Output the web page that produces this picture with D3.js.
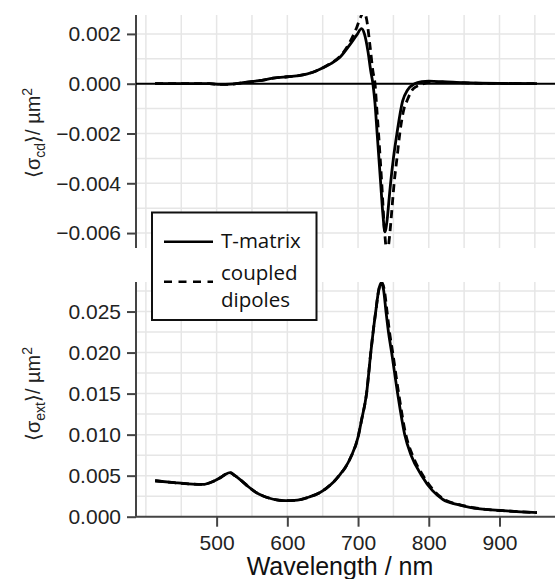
<!DOCTYPE html>
<html>
<head>
<meta charset="utf-8">
<script src="https://cdn.jsdelivr.net/npm/d3@7"></script>
<style>
  html, body { margin: 0; padding: 0; background: #fff; }
  svg { display: block; }
</style>
</head>
<body>
<svg id="chart" width="555" height="579"></svg>
<script>
// ---------- data ----------
const cdTmatWl = [413,450,490,505,520,540,560,580,600,618,635,646,660,674,688,698,705,709,714,718,721,724,727,732,735,738,741,744,746,750,755,763,770,780,790,800,820,850,900,953];
const cdTmatV  = [0,0,0,-0.00003,-0.00002,0.00005,0.00012,0.00022,0.00028,0.00033,0.00045,0.00058,0.00078,0.00105,0.00155,0.00195,0.00221,0.00200,0.00130,0.00050,0.0,-0.0008,-0.0020,-0.0040,-0.0052,-0.00595,-0.0055,-0.0046,-0.0040,-0.0030,-0.0020,-0.0007,-0.00025,0.0,0.00008,0.0001,0.00008,0.00004,0.00001,0];

const cdDipWl = [413,450,490,505,520,540,560,580,600,618,635,646,660,674,688,698,704,708,712,717,721,724,726.5,729,733.5,737,741,745,748,751,755,759,765,769,778,790,800,820,850,900,953];
const cdDipV  = [0,0,0,-0.00003,-0.00002,0.00005,0.00012,0.00022,0.00028,0.00033,0.00045,0.00058,0.00080,0.00108,0.00165,0.00225,0.0027,0.0029,0.0026,0.0015,0.0005,0.0,-0.0010,-0.0020,-0.0040,-0.0057,-0.0068,-0.0060,-0.0050,-0.0040,-0.0030,-0.0020,-0.0010,-0.0007,-0.0002,-0.00003,0.00005,0.00006,0.00003,0.00001,0];

const extTmatWl = [413,440,460,480,495,505,512,519,526,535,545,555,565,575,585,598,610,620,631,645,655,665,675,682,690,700,705,712,718,722,725,729,732.5,736,739.5,743,747.5,756,766,775,790,805,820,840,858,880,905,930,953];
const extTmatV  = [0.00438,0.00415,0.00400,0.00393,0.00430,0.00475,0.00515,0.00537,0.00500,0.00440,0.00365,0.00300,0.00255,0.00225,0.00205,0.00195,0.00198,0.00212,0.00240,0.00290,0.00346,0.00420,0.00520,0.00600,0.00730,0.00970,0.0118,0.0150,0.0200,0.0230,0.0250,0.0275,0.0285,0.0277,0.0250,0.0225,0.0200,0.0150,0.0100,0.0075,0.0050,0.0032,0.0021,0.00150,0.00115,0.00090,0.00073,0.00060,0.00050];

const extDipWl = [413,440,460,480,495,505,512,519,526,535,545,555,565,575,585,598,610,620,631,645,655,665,675,682,690,700,705,712,718,722,725,729,733,737,741,744.5,749,757.5,767.5,777,792,807,822,842,860,880,905,930,953];
const extDipV  = [0.00438,0.00415,0.00400,0.00393,0.00430,0.00475,0.00515,0.00537,0.00500,0.00440,0.00365,0.00300,0.00255,0.00225,0.00205,0.00195,0.00198,0.00212,0.00240,0.00290,0.00346,0.00420,0.00520,0.00600,0.00730,0.00970,0.0118,0.0150,0.0200,0.0230,0.0250,0.0275,0.0286,0.0277,0.0250,0.0225,0.0200,0.0150,0.0100,0.0075,0.0050,0.0032,0.0021,0.00150,0.00115,0.00090,0.00073,0.00060,0.00050];

const xTicks = [500, 600, 700, 800, 900];
const xGrid = [400,450,500,550,600,650,700,750,800,850,900,950];
const topTicks = [0.002, 0.000, -0.002, -0.004, -0.006];
const topGrid = [0.002,0.001,0,-0.001,-0.002,-0.003,-0.004,-0.005,-0.006];
const botTicks = [0.000,0.005,0.010,0.015,0.020,0.025];
const botGrid = [0.0025,0.005,0.0075,0.010,0.0125,0.015,0.0175,0.020,0.0225,0.025,0.0275];
const legendLabels = [["T-matrix"], ["coupled", "dipoles"]];
const xTitle = "Wavelength / nm";

// ---------- layout ----------
const svg = d3.select("#chart");
const xL = 136, xR = 555;
const x = d3.scaleLinear().domain([386, 978.5]).range([xL, xR]);
const yTop = d3.scaleLinear().domain([-0.0066, 0.00276]).range([248, 15]);
const yBot = d3.scaleLinear().domain([0, 0.0286]).range([516.7, 282]);

const gridColor = "#e6e6e6";
const axisColor = "#444";
const fontAxis = "'Liberation Sans', Arial, Helvetica, sans-serif";

const defs = svg.append("defs");
defs.append("clipPath").attr("id", "clipTop").append("rect")
  .attr("x", xL).attr("y", yTop.range()[1]).attr("width", xR - xL).attr("height", yTop.range()[0] - yTop.range()[1]);
defs.append("clipPath").attr("id", "clipBot").append("rect")
  .attr("x", xL).attr("y", yBot.range()[1]).attr("width", xR - xL).attr("height", yBot.range()[0] - yBot.range()[1]);

function panel(y, grid, ticks, fmt) {
  const g = svg.append("g");
  g.selectAll(".vg").data(xGrid).enter().append("line")
    .attr("x1", d => x(d)).attr("x2", d => x(d))
    .attr("y1", y.range()[1]).attr("y2", y.range()[0])
    .attr("stroke", gridColor).attr("stroke-width", 1.5);
  g.selectAll(".hg").data(grid).enter().append("line")
    .attr("x1", xL).attr("x2", xR)
    .attr("y1", d => y(d)).attr("y2", d => y(d))
    .attr("stroke", gridColor).attr("stroke-width", 1.5);
  const ax = g.append("g").attr("transform", `translate(${xL},0)`)
    .call(d3.axisLeft(y).tickValues(ticks).tickFormat(fmt).tickSize(9).tickPadding(6));
  ax.select(".domain").attr("d", `M0,${y.range()[1]}V${y.range()[0]}`).attr("stroke", axisColor).attr("stroke-width", 2);
  ax.selectAll(".tick line").attr("stroke", axisColor).attr("stroke-width", 2);
  ax.selectAll(".tick text").attr("font-family", fontAxis).attr("font-size", 21).attr("fill", "#222");
  return g;
}

const fmtMinus = f => (d => { const s = d3.format(f)(Math.abs(d) < 1e-12 ? 0 : d); return s.replace("-", "\u2212"); });

const gTop = panel(yTop, topGrid, topTicks, fmtMinus(".3f"));
const gBot = panel(yBot, botGrid, botTicks, fmtMinus(".3f"));

gTop.append("line").attr("x1", xL).attr("x2", xR).attr("y1", yTop(0)).attr("y2", yTop(0))
  .attr("stroke", "#000").attr("stroke-width", 2);

const xAx = svg.append("g").attr("transform", `translate(0,${yBot.range()[0]})`)
  .call(d3.axisBottom(x).tickValues(xTicks).tickFormat(d3.format("d")).tickSize(10).tickPadding(8));
xAx.select(".domain").attr("d", `M${xL},0H${xR}`).attr("stroke", axisColor).attr("stroke-width", 2);
xAx.selectAll(".tick line").attr("stroke", axisColor).attr("stroke-width", 2);
xAx.selectAll(".tick text").attr("font-family", fontAxis).attr("font-size", 21).attr("fill", "#222");

function drawLine(g, wl, v, y, clipId, dashed) {
  const pts = wl.map((w, i) => [w, v[i]]);
  const line = d3.line().x(d => x(d[0])).y(d => y(d[1])).curve(d3.curveMonotoneX);
  g.append("path").datum(pts).attr("d", line)
    .attr("clip-path", `url(#${clipId})`)
    .attr("fill", "none").attr("stroke", "#000").attr("stroke-width", 2.8)
    .attr("stroke-dasharray", dashed ? "8,5" : null)
    .attr("stroke-linejoin", "round");
}
drawLine(gTop, cdDipWl, cdDipV, yTop, "clipTop", true);
drawLine(gTop, cdTmatWl, cdTmatV, yTop, "clipTop", false);
drawLine(gBot, extDipWl, extDipV, yBot, "clipBot", true);
drawLine(gBot, extTmatWl, extTmatV, yBot, "clipBot", false);

function yLabel(cx, cy, sub) {
  const t = svg.append("text")
    .attr("transform", `translate(${cx},${cy}) rotate(-90)`)
    .attr("text-anchor", "middle")
    .attr("font-family", fontAxis).attr("font-size", 20).attr("fill", "#222");
  t.append("tspan").text("\u27E8\u03C3");
  t.append("tspan").attr("font-size", 14).attr("dy", 5).text(sub);
  t.append("tspan").attr("dy", -5).text("\u27E9/ \u00B5m");
  t.append("tspan").attr("font-size", 14).attr("dy", -8).text("2");
}
yLabel(40, 133, "cd");
yLabel(40, 394, "ext");

svg.append("text").attr("x", 340).attr("y", 575).attr("text-anchor", "middle")
  .attr("font-family", fontAxis).attr("font-size", 25).attr("fill", "#111").text(xTitle);

const lg = svg.append("g");
lg.append("rect").attr("x", 152).attr("y", 212.5).attr("width", 164.5).attr("height", 107.5)
  .attr("fill", "#fff").attr("stroke", "#111").attr("stroke-width", 2);
const legFont = "'Open Sans', 'Noto Sans', sans-serif";
lg.append("line").attr("x1", 164).attr("x2", 213).attr("y1", 241.7).attr("y2", 241.7)
  .attr("stroke", "#000").attr("stroke-width", 2.4);
lg.append("line").attr("x1", 164).attr("x2", 213).attr("y1", 281.7).attr("y2", 281.7)
  .attr("stroke", "#000").attr("stroke-width", 2.4).attr("stroke-dasharray", "8,6.5");
lg.append("text").attr("x", 221).attr("y", 248).attr("font-family", legFont).attr("font-size", 20.5).attr("fill", "#111").text(legendLabels[0][0]);
lg.append("text").attr("x", 221).attr("y", 280).attr("font-family", legFont).attr("font-size", 20.5).attr("fill", "#111").text(legendLabels[1][0]);
lg.append("text").attr("x", 221).attr("y", 306.5).attr("font-family", legFont).attr("font-size", 20.5).attr("fill", "#111").text(legendLabels[1][1]);
</script>
</body>
</html>
